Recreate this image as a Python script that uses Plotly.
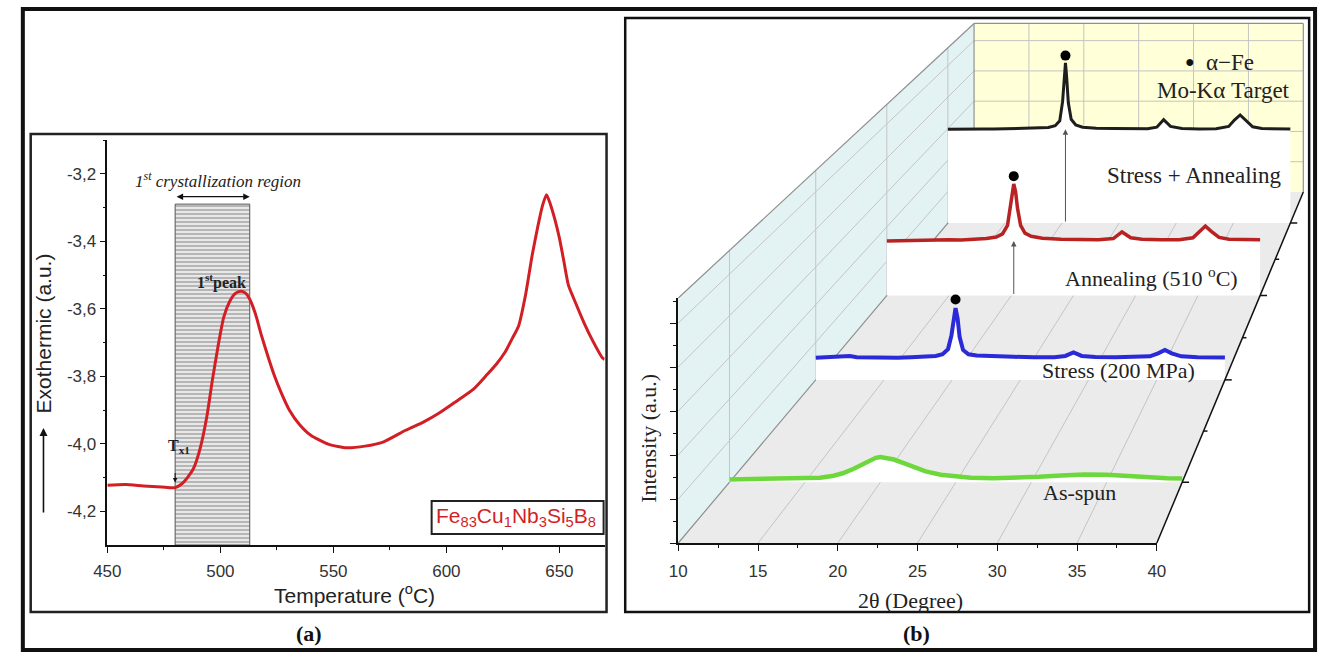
import plotly.graph_objects as go

W, H = 1327, 653
def fx(p):
    return p / W
def fy(p):
    return 1 - p / H

# ---------------- (a) DSC data ----------------
dsc_temp = [450, 458, 466, 474, 480, 484, 488, 491, 494, 496.5, 499, 501.5, 504, 506.5, 509,
            511, 513, 515.5, 518, 521, 524, 527, 530.5, 535, 540, 548, 556, 564, 572, 582,
            590, 597, 604, 612, 618, 622, 626, 629, 632, 635, 638, 640.5, 642.5, 644.3, 646,
            648, 650, 652, 654, 657, 661, 665, 669, 670]
dsc_signal = [-4.123, -4.121, -4.125, -4.128, -4.130, -4.112, -4.075, -4.015, -3.92, -3.81,
              -3.71, -3.625, -3.58, -3.555, -3.548, -3.553, -3.572, -3.615, -3.675, -3.74,
              -3.80, -3.85, -3.90, -3.943, -3.975, -4.002, -4.012, -4.007, -3.995, -3.96,
              -3.935, -3.908, -3.876, -3.838, -3.795, -3.765, -3.728, -3.69, -3.65, -3.56,
              -3.44, -3.355, -3.295, -3.262, -3.29, -3.335, -3.39, -3.46, -3.53, -3.58,
              -3.643, -3.698, -3.745, -3.75]
x_ticks_a = [450, 500, 550, 600, 650]
x_minor_a = [475, 525, 575, 625]
y_ticks_a = [-4.2, -4.0, -3.8, -3.6, -3.4, -3.2]
y_ticklabels_a = ["-4,2", "-4,0", "-3,8", "-3,6", "-3,4", "-3,2"]
y_minor_a = [-4.1, -3.9, -3.7, -3.5, -3.3, -3.1]
cryst_region = [480, 513]
cryst_top = -3.29
tx1_temp = 480
X_RANGE_A = [450, 670]
Y_RANGE_A = [-4.3, -3.1]

# ---------------- (b) XRD data (front-plane intensity, a.u.) ----------------
tt_asspun = [10, 11, 12, 13, 14, 15, 16, 16.8, 17.5, 18.2, 18.8, 19.3, 19.7, 20.0, 20.4, 20.9,
             21.5, 22.2, 23.0, 24.0, 25.0, 26.0, 27.5, 29.0, 30.5, 32.0, 33.5, 35.0, 36.5, 38.0,
             39.0, 40.0]
I_asspun = [3.0, 3.2, 3.0, 3.3, 3.5, 3.9, 4.8, 6.5, 9.5, 14, 19, 23, 25.8, 26.7, 26, 24,
            20.5, 16, 11.5, 8, 6, 4.8, 4.3, 4.8, 5.8, 7.2, 8.3, 7.8, 6.2, 4.8, 4.2, 4.0]

tt_stress = [10, 11, 12, 12.5, 13, 14, 15, 16, 17, 18, 18.8, 19.3, 19.7, 19.95, 20.1, 20.25,
             20.4, 20.55, 20.8, 21.2, 21.8, 23, 24.5, 26, 27.5, 28.3, 28.9, 29.5, 30.5, 32,
             33.5, 34.5, 35.1, 35.6, 36.1, 36.8, 38, 39, 40]
I_stress = [26, 26.5, 27.5, 28, 26.5, 26, 26.3, 26, 26.5, 27, 28, 30, 36, 52, 72, 84,
            72, 50, 35, 30, 28.5, 27.5, 27, 26.5, 26.5, 28, 32, 28, 26.8, 26.5,
            26.5, 27.5, 31, 35, 31, 27.5, 26.5, 26.3, 26.3]

tt_anneal = [10, 11, 12, 13, 14, 15, 16, 17, 18, 18.8, 19.3, 19.7, 19.95, 20.1, 20.2, 20.35,
             20.5, 20.75, 21.1, 21.6, 22.5, 24, 25.5, 27, 28.2, 28.9, 29.6, 30.5, 32, 33.5,
             34.6, 35.1, 35.6, 36.1, 36.7, 37.5, 39, 40]
I_anneal = [70, 70.5, 71, 70.5, 71, 71.5, 71, 72, 73, 75, 79, 90, 115, 135, 143, 133,
            112, 90, 80, 76, 73.5, 72, 71.5, 71.5, 73, 81.5, 74, 72, 71.5, 71.5,
            74, 82, 89, 82, 74.5, 72, 71.5, 71.5]

tt_stress_anneal = [10, 11, 12, 13, 14, 15, 16, 17, 18, 18.8, 19.4, 19.8, 20.05, 20.2, 20.3,
                    20.4, 20.55, 20.8, 21.2, 21.8, 23, 24.5, 26, 27.5, 28.3, 28.9, 29.5, 30.5,
                    32, 33.5, 34.6, 35.1, 35.6, 36.1, 36.7, 37.5, 39, 40]
I_stress_anneal = [131, 131.5, 131, 131.5, 131.3, 131.8, 131.5, 132, 132.5, 133.5, 136, 143,
                   170, 205, 224, 205, 168, 145, 137, 134, 132.5, 132, 131.5, 131.8, 134,
                   144.5, 135, 132, 131.5, 131.8, 135, 144, 151, 143, 134.5, 132, 131.5, 131.5]

series_tt = [tt_asspun, tt_stress, tt_anneal, tt_stress_anneal]
series_I = [I_asspun, I_stress, I_anneal, I_stress_anneal]
series_names = ["As-spun", "Stress (200 MPa)", "Annealing (510 <sup>o</sup>C)", "Stress + Annealing"]
series_alpha_fe = [False, True, True, True]
series_arrow = [False, False, True, True]
x_ticks_b = [10, 15, 20, 25, 30, 35, 40]

# ---------------- styles / geometry ----------------
series_color = ["#6cd83c", "#2a2ad8", "#b82222", "#1e1e1e"]
series_width = [4.5, 4, 3.5, 3]
depth_scale = [0.946, 0.855, 0.780, 0.7156]  # perspective scale of each series plane
S_BACK = 0.688
X10_PX, X40_PX = 676, 1163
FLOOR_PX, TOP_PX = 543, 298
PPU = (X40_PX - X10_PX) / 30.0
WALL_H = FLOOR_PX - TOP_PX
VX = 10 + (1640.7 - X10_PX) / PPU
VU = 1125.0
INT_MAJOR = [0, 44, 88, 132, 176, 220]
INT_MINOR = [22, 66, 110, 154, 198, 242]
GRID_TT = [15, 20, 25, 30, 35]
DX0, DX1, DY0, DY1 = 624, 1318, 20, 611

SANS = "Liberation Sans"
SERIF = "Liberation Serif"


def P(tt, I, s):
    return VX + (tt - VX) * s, VU + (I - VU) * s


fig = go.Figure()

# ---- (a) traces ----
fig.add_trace(go.Bar(
    x=[(cryst_region[0] + cryst_region[1]) / 2], y=[cryst_top - Y_RANGE_A[0]], base=[Y_RANGE_A[0]],
    width=[cryst_region[1] - cryst_region[0]],
    marker=dict(color="#e4e4e4", line=dict(color="#555555", width=1),
                pattern=dict(shape="-", fgcolor="#7a7a7a", bgcolor="#e8e8e8", size=4, solidity=0.45)),
    xaxis="x", yaxis="y", hoverinfo="skip", showlegend=False))
fig.add_trace(go.Scatter(x=dsc_temp, y=dsc_signal, mode="lines",
                         line=dict(color="#d21f26", width=3, shape="spline", smoothing=0.6),
                         xaxis="x", yaxis="y", hoverinfo="skip", showlegend=False))

# ---- (b) 3D box ----
def poly(pts, fill, line_color=None, lw=0):
    xs = [p[0] for p in pts] + [pts[0][0]]
    ys = [p[1] for p in pts] + [pts[0][1]]
    fig.add_trace(go.Scatter(x=xs, y=ys, mode="lines", fill="toself", fillcolor=fill,
                             line=dict(color=line_color or fill, width=lw),
                             xaxis="x2", yaxis="y2", hoverinfo="skip", showlegend=False))

poly([P(10, 0, S_BACK), P(40, 0, S_BACK), P(40, WALL_H, S_BACK), P(10, WALL_H, S_BACK)], "#ffffd8")
poly([P(10, 0, 1), P(10, WALL_H, 1), P(10, WALL_H, S_BACK), P(10, 0, S_BACK)], "#e3f3f3")
poly([P(10, 0, 1), P(40, 0, 1), P(40, 0, S_BACK), P(10, 0, S_BACK)], "#ebebeb")

gx, gy = [], []
def seg(a, b, X=gx, Y=gy):
    X += [a[0], b[0], None]
    Y += [a[1], b[1], None]

for t in GRID_TT:
    seg(P(t, 0, S_BACK), P(t, WALL_H, S_BACK))
    seg(P(t, 0, 1), P(t, 0, S_BACK))
for h in INT_MAJOR[1:]:
    seg(P(10, h, S_BACK), P(40, h, S_BACK))
    seg(P(10, h, 1), P(10, h, S_BACK))
for s in depth_scale:
    seg(P(10, 0, s), P(10, WALL_H, s))
fig.add_trace(go.Scatter(x=gx, y=gy, mode="lines", line=dict(color="#c4c4c4", width=1),
                         xaxis="x2", yaxis="y2", hoverinfo="skip", showlegend=False))

ox, oy = [], []
seg(P(10, WALL_H, 1), P(10, WALL_H, S_BACK), ox, oy)
seg(P(10, WALL_H, S_BACK), P(40, WALL_H, S_BACK), ox, oy)
seg(P(40, WALL_H, S_BACK), P(40, 0, S_BACK), ox, oy)
seg(P(10, 0, 1), P(10, 0, S_BACK), ox, oy)
seg(P(10, 0, S_BACK), P(10, WALL_H, S_BACK), ox, oy)
fig.add_trace(go.Scatter(x=ox, y=oy, mode="lines", line=dict(color="#8f8f8f", width=1.2),
                         xaxis="x2", yaxis="y2", hoverinfo="skip", showlegend=False))

# series from back to front
annotations = []
for k in reversed(range(len(series_tt))):
    s = depth_scale[k]
    pts = [P(t, I, s) for t, I in zip(series_tt[k], series_I[k])]
    cx = [p[0] for p in pts] + [P(40, 0, s)[0], P(10, 0, s)[0], pts[0][0]]
    cy = [p[1] for p in pts] + [P(40, 0, s)[1], P(10, 0, s)[1], pts[0][1]]
    fig.add_trace(go.Scatter(x=cx, y=cy, mode="lines", fill="toself", fillcolor="white",
                             line=dict(color="white", width=0), xaxis="x2", yaxis="y2",
                             hoverinfo="skip", showlegend=False))
    fig.add_trace(go.Scatter(x=[p[0] for p in pts], y=[p[1] for p in pts], mode="lines",
                             line=dict(color=series_color[k], width=series_width[k]),
                             xaxis="x2", yaxis="y2", hoverinfo="skip", showlegend=False))
    imax = max(range(len(series_I[k])), key=lambda i: series_I[k][i])
    tpk, Ipk = series_tt[k][imax], series_I[k][imax]
    if series_alpha_fe[k]:
        d = P(tpk, Ipk + 10, s)
        fig.add_trace(go.Scatter(x=[d[0]], y=[d[1]], mode="markers",
                                 marker=dict(color="black", size=10), xaxis="x2", yaxis="y2",
                                 hoverinfo="skip", showlegend=False))
    if series_arrow[k]:
        tip = P(tpk, min(series_I[k]), s)
        tail = P(tpk, 0, s)
        annotations.append(dict(x=tip[0], y=tip[1], ax=tail[0], ay=tail[1], xref="x2", yref="y2",
                                axref="x2", ayref="y2", text="", showarrow=True, arrowhead=2,
                                arrowsize=1.1, arrowwidth=1, arrowcolor="#555555"))

# depth axis on the right floor edge
dx, dy = [], []
seg(P(40, 0, 1), P(40, 0, S_BACK), dx, dy)
tick_major = 7 / PPU
tick_minor = 4 / PPU
for s in depth_scale:
    a = P(40, 0, s)
    seg(a, (a[0] + tick_major, a[1]), dx, dy)
for s1, s2 in zip(depth_scale[:-1], depth_scale[1:]):
    a = P(40, 0, (s1 + s2) / 2)
    seg(a, (a[0] + tick_minor, a[1]), dx, dy)
fig.add_trace(go.Scatter(x=dx, y=dy, mode="lines", line=dict(color="#111111", width=1.5),
                         xaxis="x2", yaxis="y2", hoverinfo="skip", showlegend=False))

# dummy trace for the visible front axes
fig.add_trace(go.Scatter(x=[10], y=[0], mode="markers", marker=dict(opacity=0),
                         xaxis="x3", yaxis="y3", hoverinfo="skip", showlegend=False))

# ---------------- annotations ----------------
def txt(text, x, y, size, family=SANS, color="#222222", **kw):
    d = dict(text=text, x=fx(x), y=fy(y), xref="paper", yref="paper", showarrow=False,
             font=dict(family=family, size=size, color=color), xanchor="center", yanchor="middle")
    d.update(kw)
    annotations.append(d)

# (a)
txt("Exothermic (a.u.)", 30, 333, 21, textangle=-90)
annotations.append(dict(x=fx(30), y=fy(428), xref="paper", yref="paper", ax=0, ay=86, text="",
                        showarrow=True, arrowhead=2, arrowsize=1, arrowwidth=1.6, arrowcolor="#111"))
txt("Temperature (<sup>o</sup>C)", 347, 594, 21)
txt("<i>1<sup>st</sup> crystallization region</i>", 208, 180, 17, family=SERIF)
annotations.append(dict(x=cryst_region[1], y=-3.268, ax=cryst_region[0], ay=-3.268, xref="x", yref="y",
                        axref="x", ayref="y", text="", showarrow=True, arrowhead=2, arrowside="end+start",
                        arrowsize=1, arrowwidth=1.3, arrowcolor="#111"))
txt("<b>1<sup>st</sup>peak</b>", 211, 281, 16, family=SERIF)
txt("<b>T<sub>x1</sub></b>", 168, 446, 16, family=SERIF)
annotations.append(dict(x=tx1_temp, y=-4.115, xref="x", yref="y", ax=0, ay=-11, text="",
                        showarrow=True, arrowhead=2, arrowsize=0.9, arrowwidth=1, arrowcolor="#111"))
txt("Fe<sub>83</sub>Cu<sub>1</sub>Nb<sub>3</sub>Si<sub>5</sub>B<sub>8</sub>", 511, 517, 21, color="#d21f26")
txt("<b>(a)</b>", 300, 633, 22, family=SERIF, color="#111")

# (b)
txt("Intensity (a.u.)", 645, 438, 22, family=SERIF, textangle=-90)
txt("2θ (Degree)", 912, 600, 22, family=SERIF)
txt("●", 1197, 61, 16, color="#111")
txt("α−Fe", 1237, 62, 23, family=SERIF)
txt("Mo-Kα Target", 1231, 90, 23, family=SERIF)
label_pos = [(1084, 492), (1124, 370), (1158, 277), (1201, 175)]
label_size = [22, 22, 22, 23]
for name, (lx, ly), sz in zip(series_names, label_pos, label_size):
    txt(name, lx, ly, sz, family=SERIF)
txt("<b>(b)</b>", 918, 633, 22, family=SERIF, color="#111")

# ---------------- frames ----------------
shapes = [
    dict(type="rect", xref="paper", yref="paper", x0=fx(9), x1=fx(1324), y0=fy(650), y1=fy(9),
         line=dict(color="#111", width=4)),
    dict(type="rect", xref="paper", yref="paper", x0=fx(17), x1=fx(603), y0=fy(612), y1=fy(134),
         line=dict(color="#222", width=2.5)),
    dict(type="rect", xref="paper", yref="paper", x0=fx(622), x1=fx(1318), y0=fy(612), y1=fy(18),
         line=dict(color="#111", width=2.5)),
    dict(type="rect", xref="paper", yref="paper", x0=fx(425), x1=fx(600), y0=fy(534), y1=fy(501),
         line=dict(color="#222", width=2)),
]

axis_common = dict(showline=True, linecolor="#111", linewidth=1.5, ticks="outside", tickcolor="#111",
                   tickwidth=1.2, showgrid=False, zeroline=False, fixedrange=True)

fig.update_layout(
    width=W, height=H, margin=dict(l=0, r=0, t=0, b=0),
    paper_bgcolor="white", plot_bgcolor="rgba(0,0,0,0)", showlegend=False,
    xaxis=dict(domain=[fx(95), fx(601)], range=X_RANGE_A, anchor="y", tickvals=x_ticks_a, ticklen=6,
               ticklabelstandoff=4, tickfont=dict(family=SANS, size=17, color="#333"),
               minor=dict(tickvals=x_minor_a, ticks="outside", ticklen=3, tickcolor="#111", showgrid=False),
               **axis_common),
    yaxis=dict(domain=[fy(545), fy(140)], range=Y_RANGE_A, anchor="x", tickvals=y_ticks_a,
               ticktext=y_ticklabels_a, ticklen=6, tickfont=dict(family=SANS, size=17, color="#333"),
               minor=dict(tickvals=y_minor_a, ticks="outside", ticklen=3, tickcolor="#111", showgrid=False),
               **axis_common),
    xaxis2=dict(domain=[fx(DX0), fx(DX1)], range=[10 + (DX0 - X10_PX) / PPU, 10 + (DX1 - X10_PX) / PPU],
                anchor="y2", visible=False, fixedrange=True),
    yaxis2=dict(domain=[fy(DY1), fy(DY0)], range=[FLOOR_PX - DY1, FLOOR_PX - DY0],
                anchor="x2", visible=False, fixedrange=True),
    xaxis3=dict(domain=[fx(X10_PX), fx(X40_PX)], range=[10, 40], anchor="y3", tickvals=x_ticks_b,
                ticklen=6, ticklabelstandoff=6, tickfont=dict(family=SANS, size=17, color="#333"),
                minor=dict(dtick=2.5, tick0=10, ticks="outside", ticklen=3, tickcolor="#111", showgrid=False),
                **axis_common),
    yaxis3=dict(domain=[fy(FLOOR_PX), fy(TOP_PX)], range=[0, WALL_H], anchor="x3", tickvals=INT_MAJOR,
                showticklabels=False, ticklen=7,
                minor=dict(tickvals=INT_MINOR, ticks="outside", ticklen=4, tickcolor="#111", showgrid=False),
                **axis_common),
    annotations=annotations, shapes=shapes,
)

fig.write_html("out.html")
